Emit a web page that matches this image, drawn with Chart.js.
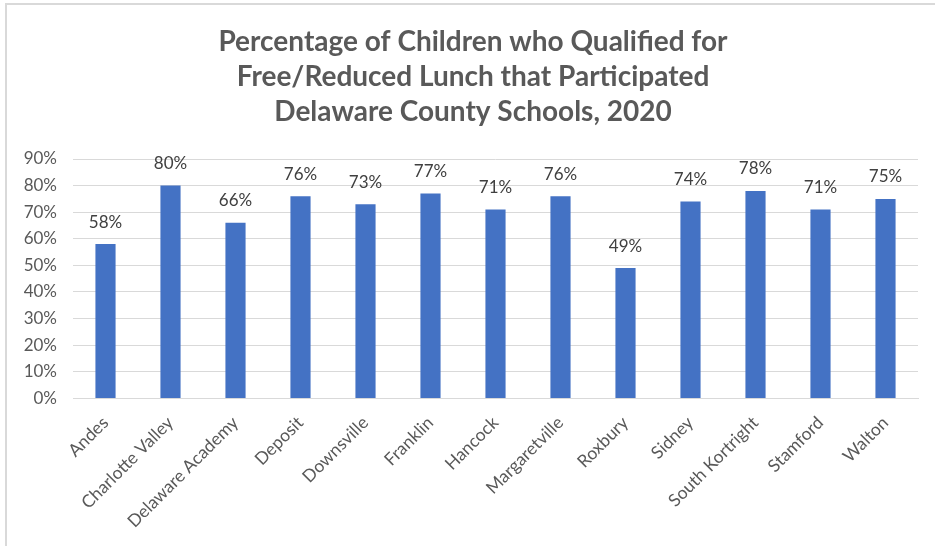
<!DOCTYPE html>
<html>
<head>
<meta charset="utf-8">
<script src="https://cdn.jsdelivr.net/npm/chart.js@4/dist/chart.umd.min.js"></script>
<style>
  html, body { margin: 0; padding: 0; background: #fff; }
  #wrap { position: relative; width: 935px; height: 546px; }
  #frame { position: absolute; left: 5px; top: 3px; right: 0; bottom: 0;
           border-top: 2px solid #d9d9d9; border-left: 2px solid #d9d9d9; pointer-events: none; }
  canvas { position: absolute; left: 0; top: 0; }
</style>
</head>
<body>
<div id="wrap">
  <canvas id="c" width="935" height="546"></canvas>
  <div id="frame"></div>
</div>
<script>
const titleLines = [
  "Percentage of Children who Qualified for",
  "Free/Reduced Lunch that Participated",
  "Delaware County Schools, 2020"
];
const schools = ["Andes", "Charlotte Valley", "Delaware Academy", "Deposit", "Downsville",
  "Franklin", "Hancock", "Margaretville", "Roxbury", "Sidney", "South Kortright", "Stamford", "Walton"];
const participation = [58, 80, 66, 76, 73, 77, 71, 76, 49, 74, 78, 71, 75];
const yMin = 0;
const yMax = 90;
const yStep = 10;

const FONT = "Lato, 'Open Sans', sans-serif";
const TITLE_SIZE = 28;
const TITLE_LH = 1.25;
const TITLE_PAD_TOP = 24;
const TITLE_SHIFT_X = 9;

const dataLabels = {
  id: 'dataLabels',
  afterDatasetsDraw(chart) {
    const ctx = chart.ctx;
    ctx.save();
    ctx.font = "17px " + FONT;
    ctx.fillStyle = "#404040";
    ctx.textAlign = "center";
    ctx.textBaseline = "middle";
    chart.data.datasets.forEach((ds, di) => {
      const meta = chart.getDatasetMeta(di);
      meta.data.forEach((el, i) => {
        ctx.fillText(ds.data[i] + "%", el.x, el.y - 22);
      });
    });
    ctx.restore();
  }
};

// draws the title text in the space reserved by the (transparent) built-in title
const shiftedTitle = {
  id: 'shiftedTitle',
  afterDraw(chart) {
    const tb = chart.titleBlock;
    if (!tb) return;
    const ctx = chart.ctx;
    const lh = TITLE_SIZE * TITLE_LH;
    ctx.save();
    ctx.font = "bold " + TITLE_SIZE + "px " + FONT;
    ctx.fillStyle = "#595959";
    ctx.textAlign = "center";
    ctx.textBaseline = "middle";
    const cx = (tb.left + tb.right) / 2 + TITLE_SHIFT_X;
    titleLines.forEach((line, i) => {
      ctx.fillText(line, cx, tb.top + TITLE_PAD_TOP + lh * (i + 0.5));
    });
    ctx.restore();
  }
};

new Chart(document.getElementById('c'), {
  type: 'bar',
  data: {
    labels: schools,
    datasets: [{
      data: participation,
      backgroundColor: '#4472C4',
      borderWidth: 0,
      categoryPercentage: 1,
      barPercentage: 0.31
    }]
  },
  options: {
    responsive: false,
    animation: false,
    devicePixelRatio: 1,
    layout: { padding: { left: 10, right: 17, top: 0, bottom: 0 } },
    plugins: {
      legend: { display: false },
      tooltip: { enabled: false },
      title: {
        display: true,
        text: titleLines,
        color: 'rgba(0,0,0,0)',
        font: { family: FONT, size: TITLE_SIZE, weight: 'bold', lineHeight: TITLE_LH },
        padding: { top: TITLE_PAD_TOP, bottom: 30 }
      }
    },
    scales: {
      x: {
        grid: { display: false, drawTicks: false },
        border: { display: true, color: '#d9d9d9', width: 1 },
        ticks: {
          color: '#595959',
          font: { family: FONT, size: 17.5 },
          minRotation: 45,
          maxRotation: 45,
          autoSkip: false,
          padding: 14
        }
      },
      y: {
        min: yMin,
        max: yMax,
        afterFit(s) { s.width = 63; },
        grid: { color: '#d9d9d9', lineWidth: 1, drawTicks: false },
        border: { display: false },
        ticks: {
          stepSize: yStep,
          color: '#595959',
          font: { family: FONT, size: 17 },
          padding: 16,
          callback: v => v + '%'
        }
      }
    }
  },
  plugins: [dataLabels, shiftedTitle]
});
</script>
</body>
</html>
